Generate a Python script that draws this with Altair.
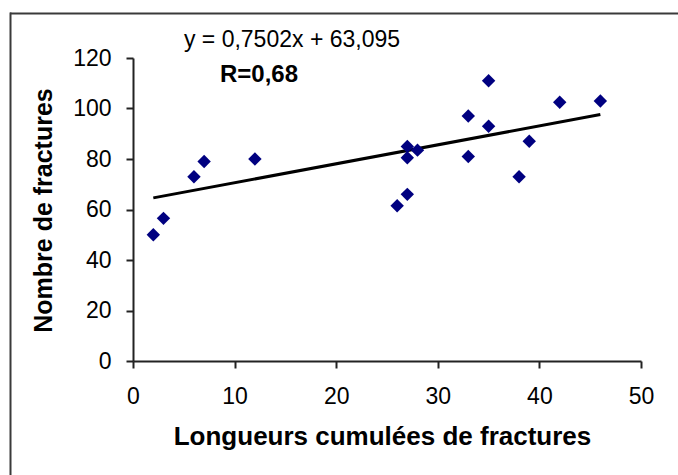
import altair as alt
import pandas as pd

# Data
longueurs = [2, 3, 6, 7, 12, 26, 27, 27, 27, 28, 33, 33, 35, 35, 38, 39, 42, 46]
nombres = [50, 56.5, 73, 79, 80, 61.5, 66, 80.5, 85, 83.5, 97, 81, 111, 93, 73, 87, 102.5, 103]

# Trend line as printed on the chart: y = 0,7502x + 63,095
slope = 0.7502
intercept = 63.095
trend_x = [2, 46]

eq_label = ["y = 0,7502x + 63,095"]
r_label = ["R=0,68"]

x_ticks = [0, 10, 20, 30, 40, 50]
y_ticks = [0, 20, 40, 60, 80, 100, 120]

FONT = "Liberation Sans"

pts = pd.DataFrame({"x": longueurs, "y": nombres})
trend = pd.DataFrame({"x": trend_x, "y": [slope * v + intercept for v in trend_x]})

W, H = 508, 303

xscale = alt.Scale(domain=[0, 50], nice=False, zero=True)
yscale = alt.Scale(domain=[0, 120], nice=False, zero=True)

xaxis = alt.Axis(
    values=x_ticks, grid=False, title="Longueurs cumulées de fractures",
    labelFont=FONT, labelFontSize=23, labelColor="#000000", labelPadding=17,
    tickSize=7, tickColor="#222222", tickWidth=2, domainColor="#222222", domainWidth=2,
    titleFont=FONT, titleFontSize=26, titleFontWeight="bold", titleColor="#000000",
    titleX=249, titleY=75, titleAlign="center", titleBaseline="middle",
    labelFlush=False,
)
yaxis = alt.Axis(
    values=y_ticks, grid=False, title="Nombre de fractures",
    labelFont=FONT, labelFontSize=23, labelColor="#000000", labelPadding=15,
    tickSize=7, tickColor="#222222", tickWidth=2, domainColor="#222222", domainWidth=2,
    titleFont=FONT, titleFontSize=25, titleFontWeight="bold", titleColor="#000000",
    titleX=-90, titleY=152, titleAngle=270, titleAlign="center", titleBaseline="middle",
    labelFlush=False,
)

points = alt.Chart(pts).mark_point(
    shape="diamond", filled=True, color="#000080", size=180, opacity=1
).encode(
    x=alt.X("x:Q", scale=xscale, axis=xaxis),
    y=alt.Y("y:Q", scale=yscale, axis=yaxis),
)

line = alt.Chart(trend).mark_line(color="#000000", strokeWidth=3).encode(
    x=alt.X("x:Q", scale=xscale),
    y=alt.Y("y:Q", scale=yscale),
)

eq_text = alt.Chart(pd.DataFrame({"t": eq_label})).mark_text(
    font=FONT, fontSize=23, color="#000000", align="center", baseline="middle"
).encode(text="t:N", x=alt.value(159), y=alt.value(-18))

r_text = alt.Chart(pd.DataFrame({"t": r_label})).mark_text(
    font=FONT, fontSize=24, fontWeight="bold", color="#000000", align="center", baseline="middle"
).encode(text="t:N", x=alt.value(126), y=alt.value(17))

frame_top = alt.Chart(pd.DataFrame({"a": [0]})).mark_rule(color="#3a3a3a", strokeWidth=2).encode(
    x=alt.value(-123), x2=alt.value(560), y=alt.value(-44.5)
)
frame_left = alt.Chart(pd.DataFrame({"a": [0]})).mark_rule(color="#3a3a3a", strokeWidth=2).encode(
    x=alt.value(-122.5), y=alt.value(-45.5), y2=alt.value(440)
)

chart = alt.layer(frame_top, frame_left, line, points, eq_text, r_text).properties(
    width=W, height=H,
    autosize=alt.AutoSizeParams(type="none"),
    padding={"left": 133, "top": 58, "right": 37, "bottom": 114},
    background="#ffffff",
).configure_view(stroke=None)

chart.save("out.html", embed_options={"renderer": "svg", "actions": False})
